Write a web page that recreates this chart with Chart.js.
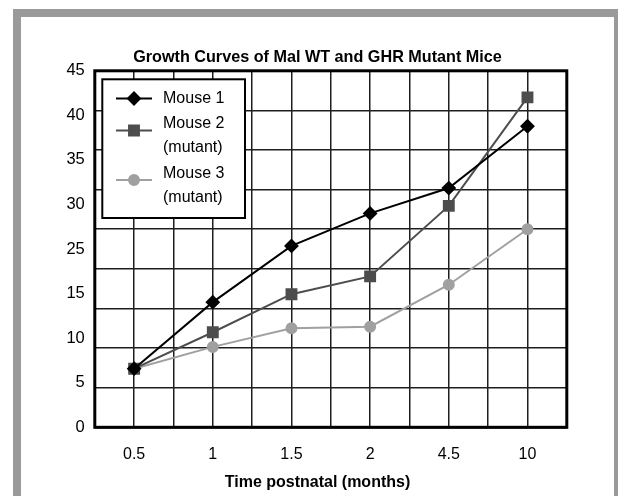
<!DOCTYPE html>
<html>
<head>
<meta charset="utf-8">
<script src="https://cdn.jsdelivr.net/npm/chart.js@4.4.0/dist/chart.umd.min.js"></script>
<style>
  html, body { margin: 0; padding: 0; background: #fff; overflow: hidden; }
  #frame { position: absolute; left: 13px; top: 9px; width: 593px; height: 500px;
           border: 8px solid #9a9a9a; border-bottom: none; background: #fff; }
  #wrap { position: absolute; left: 0; top: 0; width: 593px; height: 479px; }
</style>
</head>
<body>
<div id="frame"><div id="wrap"><canvas id="myChart"></canvas></div></div>
<script>
const months = ['0.5', '1', '1.5', '2', '4.5', '10'];
const mouse1 = [7.4, 15.8, 22.9, 27.0, 30.2, 38.0];
const mouse2 = [7.4, 12.0, 16.8, 19.05, 27.95, 41.65];
const mouse3 = [7.4, 10.15, 12.5, 12.7, 18.0, 25.0];
const yTickLabels = ['0', '5', '10', '15', '25', '30', '35', '40', '45'];
const seriesNames = [['Mouse 1'], ['Mouse 2', '(mutant)'], ['Mouse 3', '(mutant)']];

const FONT = "'Liberation Sans', Arial, sans-serif";

// frame round the plot area
const plotBorder = {
    id: 'plotBorder',
    beforeDatasetsDraw(chart) {
        const { ctx, chartArea: a } = chart;
        ctx.save();
        ctx.lineWidth = 3;
        ctx.strokeStyle = '#000';
        ctx.strokeRect(a.left, a.top, a.right - a.left, a.bottom - a.top);
        ctx.restore();
    }
};

// boxed legend in the top left corner, labels on two lines
const boxLegend = {
    id: 'boxLegend',
    afterDraw(chart) {
        const { ctx, chartArea: a } = chart;
        const left = a.left + 7.5, top = a.top + 8.5;
        ctx.save();
        ctx.fillStyle = '#fff';
        ctx.fillRect(left, top, 142.7, 138.7);
        ctx.lineWidth = 2;
        ctx.strokeStyle = '#000';
        ctx.strokeRect(left, top, 142.7, 138.7);

        let y = top + 19.2;
        chart.data.datasets.forEach((ds, i) => {
            const lines = seriesNames[i];
            const my = y + (lines.length > 1 ? 6.5 : 0);
            ctx.strokeStyle = ds.borderColor;
            ctx.lineWidth = 2;
            ctx.beginPath();
            ctx.moveTo(left + 13.7, my);
            ctx.lineTo(left + 49.7, my);
            ctx.stroke();
            ctx.fillStyle = ds.pointBackgroundColor;
            Chart.helpers.drawPoint(ctx, {
                pointStyle: ds.pointStyle, radius: ds.pointRadius, borderWidth: 1, rotation: 0
            }, left + 31.7, my);
            ctx.fill();

            ctx.fillStyle = '#000';
            ctx.font = '16px ' + FONT;
            ctx.textBaseline = 'middle';
            lines.forEach((t, k) => ctx.fillText(t, left + 60.7, y + k * 24));
            y += (lines.length - 1) * 24 + 25.5;
        });
        ctx.restore();
    }
};

const gridColor = '#1e1e1e';

new Chart(document.getElementById('myChart'), {
    type: 'line',
    data: {
        labels: months,
        datasets: [{
            label: 'Mouse 1',
            data: mouse1,
            borderColor: '#000',
            backgroundColor: '#000',
            pointBackgroundColor: '#000',
            pointBorderColor: '#000',
            pointStyle: 'rectRot',
            pointRadius: 6,
            borderWidth: 2,
            xAxisID: 'x',
            yAxisID: 'y'
        }, {
            label: 'Mouse 2 (mutant)',
            data: mouse2,
            borderColor: '#4d4d4d',
            backgroundColor: '#4d4d4d',
            pointBackgroundColor: '#4d4d4d',
            pointBorderColor: '#4d4d4d',
            pointStyle: 'rect',
            pointRadius: 7,
            borderWidth: 2,
            xAxisID: 'x',
            yAxisID: 'y'
        }, {
            label: 'Mouse 3 (mutant)',
            data: mouse3,
            borderColor: '#a0a0a0',
            backgroundColor: '#a0a0a0',
            pointBackgroundColor: '#a0a0a0',
            pointBorderColor: '#a0a0a0',
            pointStyle: 'circle',
            pointRadius: 5,
            borderWidth: 2,
            xAxisID: 'x',
            yAxisID: 'y'
        }]
    },
    options: {
        responsive: true,
        maintainAspectRatio: false,
        animation: false,
        layout: { padding: 0 },
        plugins: {
            legend: { display: false },
            tooltip: { enabled: false },
            title: {
                display: true,
                text: 'Growth Curves of Mal WT and GHR Mutant Mice',
                color: '#000',
                font: { family: FONT, size: 16.2, weight: 'bold' },
                padding: { top: 31.3, bottom: 3.06 }
            },
            subtitle: {
                display: true,
                position: 'bottom',
                text: 'Time postnatal (months)',
                color: '#000',
                font: { family: FONT, size: 16, weight: 'bold' },
                padding: { top: 5.6, bottom: 3.9 }
            }
        },
        scales: {
            x: {
                type: 'category',
                position: 'bottom',
                offset: true,
                weight: 1,
                grid: { display: false, drawTicks: false },
                border: { display: false },
                ticks: { color: '#000', padding: 18, font: { family: FONT, size: 16 } },
                afterFit(axis) { axis.height = 40; }
            },
            xg: {
                type: 'linear',
                axis: 'x',
                position: 'bottom',
                min: 0,
                max: 12,
                weight: 0,
                grid: { color: gridColor, lineWidth: 1.5, drawTicks: false },
                border: { display: false },
                ticks: { display: false, stepSize: 1 },
                afterFit(axis) { axis.height = 0; }
            },
            y: {
                type: 'linear',
                position: 'left',
                min: 0,
                max: 45,
                weight: 0,
                grid: { color: gridColor, lineWidth: 1.5, drawTicks: false },
                border: { display: false },
                ticks: { display: false, stepSize: 5 },
                afterFit(axis) { axis.width = 0; }
            },
            yl: {
                type: 'linear',
                axis: 'y',
                position: 'left',
                min: 0,
                max: 8,
                weight: 1,
                grid: { display: false, drawTicks: false },
                border: { display: false },
                ticks: {
                    color: '#000',
                    padding: 10,
                    stepSize: 1,
                    font: { family: FONT, size: 16.5 },
                    callback: (v) => yTickLabels[v]
                },
                afterFit(axis) { axis.width = 73.8; }
            },
            // empty axis on the right, only keeps the margin
            yr: {
                type: 'linear',
                axis: 'y',
                position: 'right',
                min: 0,
                max: 45,
                grid: { display: false, drawTicks: false },
                border: { display: false },
                ticks: { display: false },
                afterFit(axis) { axis.width = 47.2; }
            }
        }
    },
    plugins: [plotBorder, boxLegend]
});
</script>
</body>
</html>
